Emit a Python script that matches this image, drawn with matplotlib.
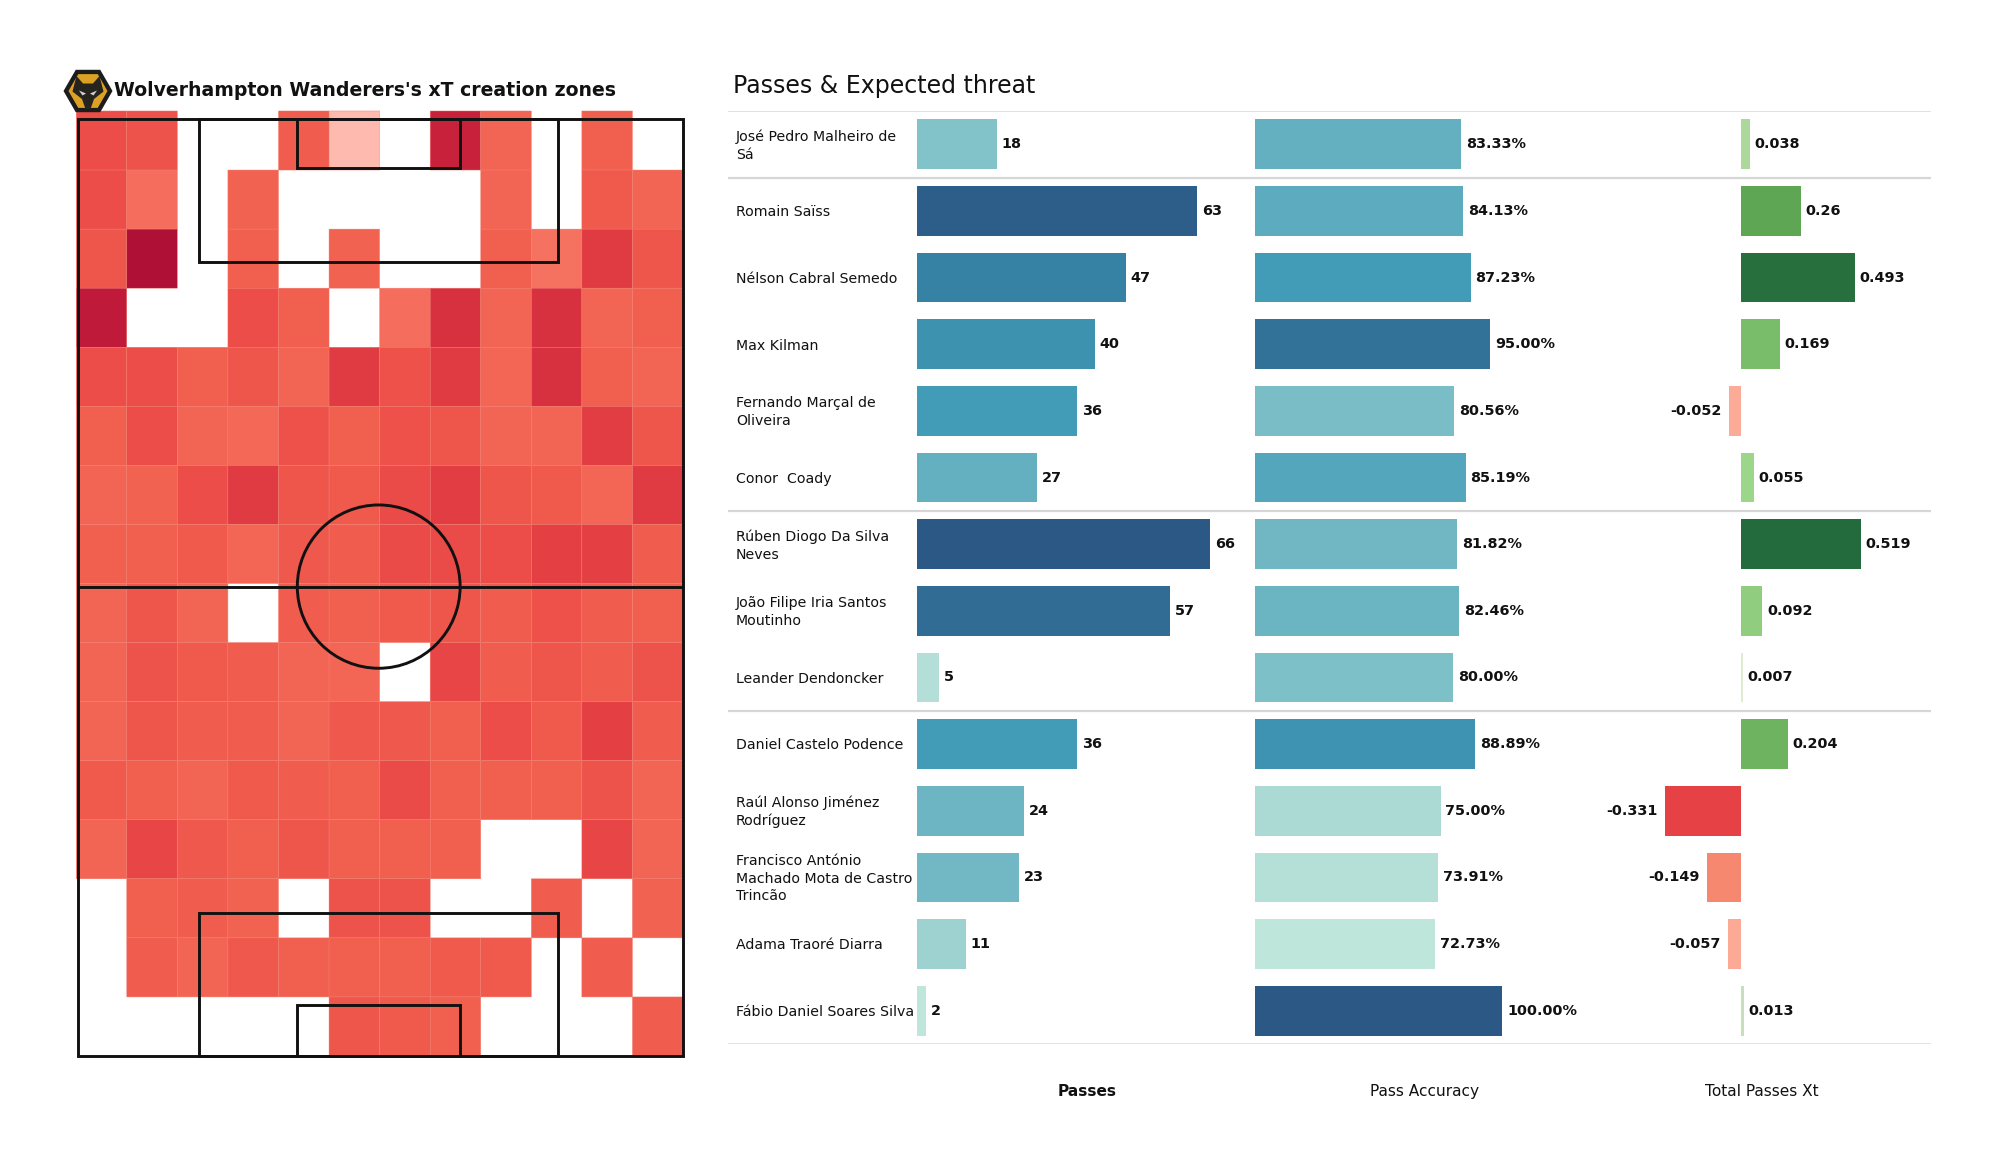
import numpy as np
import matplotlib
matplotlib.use('Agg')
import matplotlib.pyplot as plt
from matplotlib.colors import LinearSegmentedColormap, Normalize
from matplotlib.patches import Ellipse, Polygon, Rectangle, RegularPolygon

plt.rcParams['font.family'] = ['DejaVu Sans']

W, H = 2000, 1175
TEXT = '#111111'

# xT per zone, top row is the attacking end, nan = no value (white)
n = np.nan
xt_grid = [
    [.50, .47, n, n, .42, .10, n, .80, .38, n, .40, n],
    [.50, .33, n, .39, n, n, n, n, .38, n, .43, .38],
    [.45, 1.0, n, .41, n, .39, n, n, .41, .32, .62, .45],
    [.85, n, n, .50, .41, n, .33, .68, .38, .68, .38, .40],
    [.50, .50, .40, .45, .38, .62, .48, .62, .37, .68, .40, .38],
    [.40, .50, .38, .36, .48, .40, .48, .45, .38, .38, .60, .45],
    [.38, .39, .50, .62, .45, .43, .52, .60, .45, .43, .37, .62],
    [.40, .40, .43, .37, .44, .42, .52, .52, .50, .58, .58, .42],
    [.38, .45, .38, n, .42, .40, .43, .45, .42, .48, .42, .40],
    [.38, .47, .43, .42, .38, .37, n, .55, .42, .45, .42, .47],
    [.38, .45, .42, .42, .38, .44, .44, .40, .50, .43, .58, .42],
    [.43, .41, .38, .43, .42, .41, .52, .40, .40, .40, .47, .38],
    [.38, .55, .44, .40, .45, .40, .40, .40, n, n, .55, .38],
    [n, .40, .42, .39, n, .47, .47, n, n, .42, n, .39],
    [n, .42, .38, .44, .41, .41, .41, .43, .43, n, .42, n],
    [n, n, n, n, n, .45, .43, .40, n, n, n, .42],
]

players = ['José Pedro Malheiro de\nSá', 'Romain Saïss', 'Nélson Cabral Semedo', 'Max Kilman',
           'Fernando Marçal de\nOliveira', 'Conor  Coady', 'Rúben Diogo Da Silva\nNeves',
           'João Filipe Iria Santos\nMoutinho', 'Leander Dendoncker', 'Daniel Castelo Podence',
           'Raúl Alonso Jiménez\nRodríguez', 'Francisco António\nMachado Mota de Castro\nTrincão',
           'Adama Traoré Diarra', 'Fábio Daniel Soares Silva']
passes = [18, 63, 47, 40, 36, 27, 66, 57, 5, 36, 24, 23, 11, 2]
accuracy = [83.33, 84.13, 87.23, 95.00, 80.56, 85.19, 81.82, 82.46, 80.00, 88.89, 75.00, 73.91, 72.73, 100.00]
xt_total = [0.038, 0.26, 0.493, 0.169, -0.052, 0.055, 0.519, 0.092, 0.007, 0.204, -0.331, -0.149, -0.057, 0.013]
group_breaks = [0.5, 5.5, 8.5]

heat_cmap = LinearSegmentedColormap.from_list('heat', [
    (0.0, '#ffffff'), (0.10, '#ffb9ae'), (0.32, '#f5705f'), (0.40, '#f1604f'), (0.50, '#ec4d49'),
    (0.62, '#e03a42'), (0.85, '#c01a3a'), (1.0, '#ae1036')])
blue_cmap = LinearSegmentedColormap.from_list('blues', [
    (0.0, '#bfe6db'), (0.25, '#82c2c9'), (0.4, '#62aebf'), (0.53, '#429cb7'),
    (0.7, '#3583a6'), (0.85, '#316e96'), (1.0, '#2c5885')])
xt_cmap = LinearSegmentedColormap.from_list('xt', [
    (0.0, '#e64245'), (0.214, '#f6896f'), (0.33, '#fdab99'), (0.389, '#f5f5e8'), (0.405, '#c5dfb7'),
    (0.454, '#9cd68a'), (0.588, '#79bc69'), (0.695, '#5ea653'), (0.969, '#276f3d'), (1.0, '#236b3c')])


def axes_px(fig, x0, y0, x1, y1, **kw):
    # axes from pixel box, y measured from the top
    return fig.add_axes([x0 / W, 1 - y1 / H, (x1 - x0) / W, (y1 - y0) / H], **kw)


fig = plt.figure(figsize=(20, 11.75), dpi=100, facecolor='white')

# pitch and heatmap
ax = axes_px(fig, 78, 119, 683, 1056)
ax.set_xlim(0, 68)
ax.set_ylim(0, 105)
ax.axis('off')

xedges = np.linspace(-0.2, 68, 13)
yedges = np.linspace(105.9, 0, 17)
# pcolor leaves masked cells out, so empty zones get no edge
ax.pcolor(xedges, yedges, np.ma.masked_invalid(xt_grid), cmap=heat_cmap, vmin=0, vmax=1,
          edgecolor='#f47a6c', linewidth=0.3, clip_on=False)

lw_pitch = 2.1
mid_x = 33.8
line = dict(fill=False, edgecolor=TEXT, linewidth=lw_pitch, clip_on=False, zorder=3)
ax.add_patch(Rectangle((0, 0), 68, 105, **line))
ax.plot([0, 68], [52.6, 52.6], color=TEXT, lw=lw_pitch, zorder=3)
ax.add_patch(Ellipse((mid_x, 52.6), 18.3, 18.3, **line))
for y0, h_box in [(0, 16), (105 - 16, 16)]:
    ax.add_patch(Rectangle((mid_x - 20.16, y0), 40.32, h_box, **line))
for y0, h_box in [(0, 5.7), (105 - 5.5, 5.5)]:
    ax.add_patch(Rectangle((mid_x - 9.16, y0), 18.32, h_box, **line))

fig.text(114 / W, 1 - 90 / H, "Wolverhampton Wanderers's xT creation zones", fontsize=13.55,
         fontweight='bold', color=TEXT, va='center', ha='left')
fig.text(733 / W, 1 - 86 / H, 'Passes & Expected threat', fontsize=17.05, color=TEXT, va='center', ha='left')

# club badge
logo = axes_px(fig, 63, 66, 113, 116)
logo.set_xlim(-1, 1)
logo.set_ylim(-1, 1)
logo.axis('off')
logo.add_patch(RegularPolygon((0, 0), 6, radius=0.98, orientation=np.pi / 2, facecolor='#1c1c1c'))
logo.add_patch(RegularPolygon((0, 0), 6, radius=0.78, orientation=np.pi / 2, facecolor='#dba024'))
logo.add_patch(Polygon([(-.46, .6), (-.2, .3), (.2, .3), (.46, .6), (.62, -.02), (.24, -.32),
                        (.1, -.72), (-.1, -.72), (-.24, -.32), (-.62, -.02)], facecolor='#26241f'))
logo.add_patch(Polygon([(-.36, .02), (-.08, -.1), (-.22, -.18)], facecolor='#d0d0d0'))
logo.add_patch(Polygon([(.36, .02), (.08, -.1), (.22, -.18)], facecolor='#d0d0d0'))

# separators behind the bar columns
bg = axes_px(fig, 728, 111, 1931, 1044)
bg.set_xlim(0, 1)
bg.set_ylim(len(players) - 0.5, -0.5)
bg.axis('off')
bg.hlines(group_breaks, 0, 1, color='#d6d6d6', lw=1.6)
bg.hlines([-0.5], 0, 1, color='#dedede', lw=1.3)
bg.hlines([len(players) - 0.5], 0, 1, color='#e2e2e2', lw=1.3)

y = np.arange(len(players))


def bar_column(box, scale_px, values, colors, xlabel, bold_label=False, fmt='{}'):
    # scale_px = pixels per data unit, box[0] is where the axes starts
    x0, x1, zero = box
    a = axes_px(fig, x0, 111, x1, 1044)
    a.patch.set_alpha(0)
    a.set_xlim((x0 - zero) / scale_px, (x1 - zero) / scale_px)
    a.set_ylim(len(players) - 0.5, -0.5)
    a.barh(y, values, height=0.746, color=colors)
    for i, v in enumerate(values):
        a.annotate(fmt.format(v), (v, i), xytext=(3.4 if v >= 0 else -5, 0), textcoords='offset points',
                   ha='left' if v >= 0 else 'right', va='center', fontsize=10.35, fontweight='bold', color=TEXT)
    a.set_yticks([])
    a.set_xticks([])
    for s in a.spines.values():
        s.set_visible(False)
    a.set_xlabel(xlabel, fontsize=11.05, fontweight='bold' if bold_label else 'normal', color=TEXT, labelpad=28.5)
    return a


norm_p = Normalize(min(passes), max(passes))
norm_a = Normalize(min(accuracy), max(accuracy))
norm_x = Normalize(min(xt_total), max(xt_total))

ax_p = bar_column((917, 1257, 917), 4.445, passes, blue_cmap(norm_p(passes)), 'Passes', bold_label=True)
ax_a = bar_column((1255, 1595, 1255), 2.474, accuracy, blue_cmap(norm_a(accuracy)), 'Pass Accuracy', fmt='{:.2f}%')
ax_x = bar_column((1595, 1929, 1741), 231, xt_total, xt_cmap(norm_x(xt_total)), 'Total Passes Xt')

for i, name in enumerate(players):
    ax_p.text((736 - 917) / 340, i + 0.02, name, transform=ax_p.get_yaxis_transform(), ha='left', va='center',
              fontsize=10.2, color=TEXT, linespacing=1.32)

fig.savefig('out.png', dpi=100)
